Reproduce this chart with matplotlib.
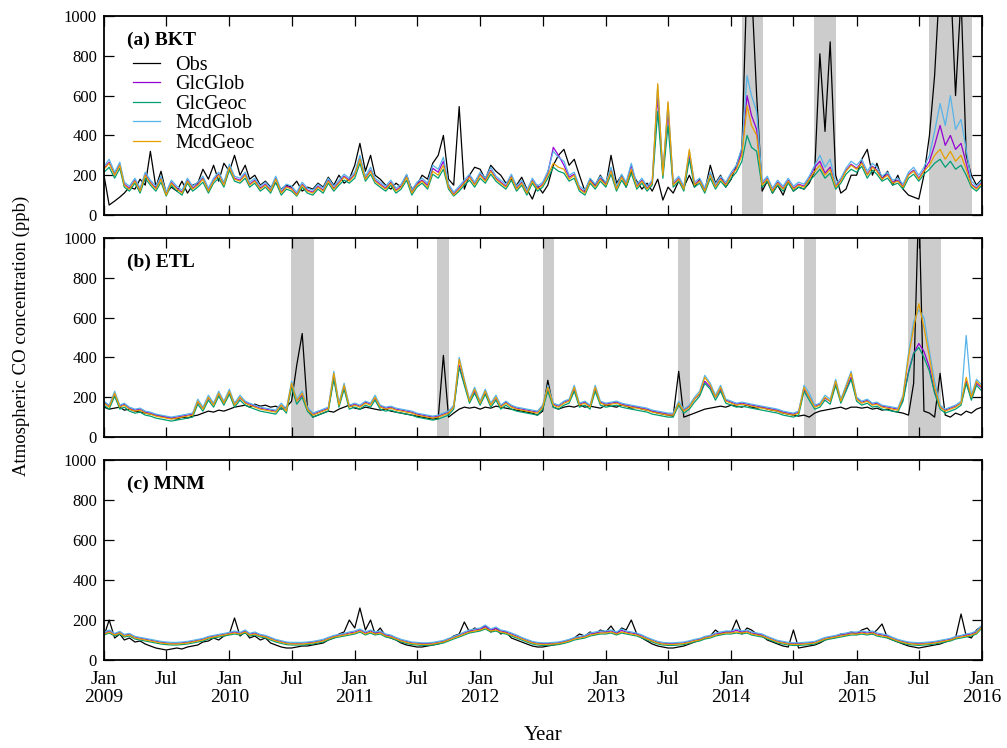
import matplotlib
matplotlib.use("Agg")
import matplotlib.pyplot as plt
import matplotlib.dates as mdates
import pandas as pd

plt.rcParams['font.family'] = ['Liberation Serif', 'DejaVu Serif']
plt.rcParams['font.size'] = 12

# ---------------- data (semi-monthly readings, 1st and 16th of each month) ----------------
years = list(range(2009, 2016))
months = list(range(1, 13))
days = [1, 16]
end_date = "2016-01-01"

series_names = ["Obs", "GlcGlob", "GlcGeoc", "McdGlob", "McdGeoc"]
series_colors = ["#000000", "#9400D3", "#009E73", "#56B4E9", "#E69F00"]
panel_titles = ["(a) BKT", "(b) ETL", "(c) MNM"]

# Panel (a) BKT
obs_a = [200, 50, 70, 90, 110, 140, 130, 180, 150, 320, 140, 220, 110, 140, 120, 170, 110, 150, 160, 230, 180, 250, 170, 260,
         220, 300, 200, 250, 180, 200, 150, 170, 140, 160, 130, 150, 140, 170, 120, 140, 130, 160, 140, 190, 150, 200, 160, 180,
         250, 360, 220, 300, 200, 180, 150, 130, 160, 140, 200, 130, 150, 200, 180, 260, 300, 400, 180, 150, 545, 130, 200, 240,
         230, 180, 250, 220, 200, 160, 180, 150, 190, 130, 80, 150, 110, 150, 250, 300, 330, 250, 280, 200, 120, 180, 150, 200,
         150, 300, 160, 200, 140, 220, 170, 130, 160, 120, 180, 75, 140, 110, 170, 140, 200, 140, 180, 120, 250, 160, 200, 140,
         180, 250, 330, 1200, 1150, 600, 120, 170, 110, 150, 100, 170, 120, 140, 130, 160, 220, 810, 420, 870, 200, 110, 130, 200,
         200, 280, 330, 200, 260, 180, 220, 150, 200, 130, 100, 90, 80, 200, 400, 700, 1200, 1200, 1200, 600, 1100, 300, 200, 150,
         180]
glcglob_a = [235, 265, 205, 255, 155, 135, 175, 125, 205, 165, 135, 185, 105, 165, 135, 115, 175, 135, 155, 185, 125, 175, 205, 155,
             245, 185, 175, 205, 155, 175, 135, 155, 125, 185, 115, 145, 135, 105, 155, 125, 115, 145, 125, 175, 135, 165, 195, 175,
             205, 285, 185, 225, 175, 155, 135, 165, 125, 145, 195, 115, 155, 175, 150, 235, 215, 270, 145, 105, 135, 165, 195, 155,
             205, 175, 225, 185, 165, 145, 195, 135, 165, 115, 175, 135, 155, 210, 340, 300, 250, 190, 205, 135, 115, 175, 145, 185,
             155, 225, 135, 195, 155, 250, 145, 175, 135, 165, 600, 205, 520, 155, 185, 135, 300, 155, 175, 125, 205, 145, 185, 155,
             205, 235, 320, 600, 500, 430, 155, 185, 125, 165, 135, 175, 135, 155, 145, 185, 240, 270, 210, 240, 145, 175, 225, 255,
             235, 265, 205, 245, 225, 185, 205, 165, 175, 145, 205, 225, 185, 225, 270, 350, 450, 350, 400, 330, 360, 260, 155, 135,
             165]
glcgeoc_a = [215, 240, 185, 235, 140, 120, 160, 110, 185, 150, 120, 165, 95, 150, 120, 100, 160, 120, 140, 165, 110, 160, 185, 140,
             225, 170, 160, 185, 140, 160, 120, 140, 110, 165, 100, 130, 120, 95, 140, 110, 100, 130, 110, 160, 120, 150, 175, 160,
             185, 260, 170, 205, 160, 140, 120, 150, 110, 130, 175, 100, 140, 160, 130, 205, 185, 230, 130, 95, 120, 150, 175, 140,
             185, 160, 205, 170, 150, 130, 175, 120, 150, 100, 160, 120, 140, 185, 240, 220, 210, 170, 185, 120, 100, 160, 130, 170,
             140, 205, 120, 175, 140, 210, 130, 160, 120, 150, 520, 185, 450, 140, 170, 120, 280, 140, 160, 110, 185, 130, 170, 140,
             185, 215, 270, 400, 340, 320, 140, 170, 110, 150, 120, 160, 120, 140, 130, 170, 200, 230, 185, 210, 130, 160, 205, 230,
             215, 245, 185, 225, 205, 170, 185, 150, 160, 130, 185, 205, 170, 205, 230, 260, 280, 240, 270, 230, 250, 200, 140, 120,
             150]
mcdglob_a = [245, 280, 215, 265, 165, 145, 185, 135, 215, 175, 145, 195, 115, 175, 145, 125, 185, 145, 165, 195, 135, 185, 215, 165,
             255, 195, 185, 215, 165, 185, 145, 165, 135, 195, 125, 155, 145, 115, 165, 135, 125, 155, 135, 185, 145, 175, 205, 185,
             215, 300, 195, 240, 185, 165, 145, 175, 135, 155, 205, 125, 165, 185, 160, 250, 230, 290, 155, 115, 145, 175, 205, 165,
             215, 185, 240, 195, 175, 155, 205, 145, 175, 125, 185, 145, 165, 220, 320, 290, 270, 200, 215, 145, 125, 185, 155, 195,
             165, 240, 145, 205, 165, 260, 155, 185, 145, 175, 650, 215, 560, 165, 195, 145, 320, 165, 185, 135, 215, 155, 195, 165,
             215, 250, 340, 700, 600, 520, 165, 195, 135, 175, 145, 185, 145, 165, 155, 195, 250, 300, 240, 280, 155, 185, 235, 270,
             250, 280, 220, 260, 240, 195, 215, 175, 185, 155, 215, 240, 200, 240, 300, 420, 560, 450, 600, 430, 480, 330, 170, 145,
             175]
mcdgeoc_a = [230, 260, 200, 250, 150, 130, 170, 120, 200, 160, 130, 180, 100, 160, 130, 110, 170, 130, 150, 180, 120, 170, 200, 150,
             240, 180, 170, 200, 150, 170, 130, 150, 120, 180, 110, 140, 130, 100, 150, 120, 110, 140, 120, 170, 130, 160, 190, 170,
             200, 280, 180, 220, 170, 150, 130, 160, 120, 140, 190, 110, 150, 170, 140, 220, 200, 250, 140, 100, 130, 160, 190, 150,
             200, 170, 220, 180, 160, 140, 190, 130, 160, 110, 170, 130, 150, 200, 260, 240, 230, 180, 200, 130, 110, 170, 140, 180,
             150, 220, 130, 190, 150, 230, 140, 170, 130, 160, 660, 200, 570, 150, 180, 130, 330, 150, 170, 120, 200, 140, 180, 150,
             200, 230, 300, 550, 450, 400, 150, 180, 120, 160, 130, 170, 130, 150, 140, 180, 220, 250, 200, 230, 140, 170, 220, 250,
             230, 260, 200, 240, 220, 180, 200, 160, 170, 140, 200, 220, 180, 220, 250, 300, 330, 280, 320, 270, 300, 230, 150, 130,
             160]

# Panel (b) ETL
obs_b = [150, 140, 145, 150, 135, 140, 130, 125, 120, 115, 110, 105, 100, 95, 90, 100, 95, 105, 110, 120, 130, 125, 135, 130,
         140, 150, 155, 160, 150, 165, 155, 160, 150, 155, 140, 150, 180, 360, 520, 150, 100, 110, 120, 130, 125, 140, 150, 160,
         145, 140, 150, 145, 140, 135, 140, 130, 125, 120, 115, 110, 105, 100, 95, 90, 95, 410, 100, 120, 140, 150, 145, 150,
         140, 150, 145, 155, 150, 145, 140, 135, 130, 125, 120, 110, 130, 285, 150, 140, 150, 155, 150, 160, 150, 155, 150, 145,
         160, 155, 150, 160, 155, 145, 150, 140, 135, 130, 120, 115, 110, 105, 330, 100, 110, 120, 130, 140, 145, 150, 155, 150,
         160, 155, 150, 160, 150, 145, 150, 140, 135, 130, 120, 115, 110, 105, 110, 100, 120, 130, 135, 140, 145, 150, 140, 150,
         150, 145, 150, 140, 145, 135, 140, 130, 125, 120, 110, 270, 1200, 130, 120, 100, 320, 110, 100, 120, 110, 130, 120, 140,
         150]
glcglob_b = [175, 155, 215, 155, 165, 145, 135, 140, 125, 120, 110, 105, 100, 95, 100, 105, 110, 115, 175, 145, 195, 165, 215, 175,
             225, 165, 195, 175, 165, 155, 145, 140, 135, 130, 160, 135, 260, 180, 210, 145, 115, 125, 135, 145, 300, 165, 250, 155,
             165, 155, 175, 165, 195, 155, 145, 150, 140, 135, 130, 125, 115, 110, 105, 100, 105, 115, 125, 150, 360, 270, 185, 230,
             175, 225, 165, 195, 155, 175, 155, 145, 140, 135, 130, 125, 155, 240, 165, 155, 175, 185, 240, 165, 175, 155, 240, 175,
             165, 170, 175, 165, 160, 155, 150, 145, 140, 130, 125, 120, 115, 115, 170, 135, 155, 190, 215, 280, 250, 200, 240, 185,
             175, 165, 170, 165, 160, 155, 150, 145, 140, 135, 125, 120, 115, 125, 240, 200, 155, 165, 195, 180, 270, 185, 240, 300,
             195, 175, 185, 165, 170, 155, 150, 145, 140, 190, 330, 420, 470, 430, 350, 230, 150, 135, 145, 155, 170, 280, 200, 270,
             245]
glcgeoc_b = [160, 140, 205, 140, 150, 130, 120, 125, 110, 105, 95, 90, 85, 80, 85, 90, 95, 100, 165, 130, 185, 150, 205, 160,
             215, 150, 185, 160, 150, 140, 130, 125, 120, 115, 150, 120, 250, 165, 200, 130, 100, 110, 120, 130, 290, 150, 240, 140,
             150, 140, 160, 150, 185, 140, 130, 135, 125, 120, 115, 110, 100, 95, 90, 85, 90, 100, 110, 140, 350, 260, 170, 220,
             160, 215, 150, 185, 140, 160, 140, 130, 125, 120, 115, 110, 140, 230, 150, 140, 160, 170, 230, 150, 160, 140, 230, 160,
             150, 155, 160, 150, 145, 140, 135, 130, 125, 115, 110, 105, 100, 100, 160, 120, 140, 175, 205, 270, 240, 185, 230, 170,
             160, 150, 155, 150, 145, 140, 135, 130, 125, 120, 110, 105, 100, 110, 230, 185, 140, 150, 185, 165, 260, 170, 230, 290,
             180, 160, 170, 150, 155, 140, 135, 130, 125, 180, 320, 420, 450, 400, 330, 220, 140, 120, 130, 140, 160, 270, 185, 260,
             230]
mcdglob_b = [180, 160, 230, 160, 170, 150, 140, 145, 130, 125, 115, 110, 105, 100, 105, 110, 115, 120, 190, 150, 210, 170, 230, 180,
             240, 170, 210, 180, 170, 160, 150, 145, 140, 135, 170, 140, 280, 190, 230, 150, 120, 130, 140, 150, 330, 170, 270, 160,
             170, 160, 180, 170, 210, 160, 150, 155, 145, 140, 135, 130, 120, 115, 110, 105, 110, 120, 130, 160, 400, 290, 190, 250,
             180, 240, 170, 210, 160, 180, 160, 150, 145, 140, 135, 130, 160, 260, 170, 160, 180, 190, 260, 170, 180, 160, 260, 180,
             170, 175, 180, 170, 165, 160, 155, 150, 145, 135, 130, 125, 120, 120, 180, 140, 160, 200, 230, 310, 270, 210, 260, 190,
             180, 170, 175, 170, 165, 160, 155, 150, 145, 140, 130, 125, 120, 130, 260, 220, 160, 170, 210, 190, 290, 190, 260, 330,
             200, 180, 190, 170, 175, 160, 155, 150, 145, 210, 420, 580, 640, 600, 430, 280, 160, 140, 150, 160, 180, 510, 210, 290,
             260]
mcdgeoc_b = [170, 150, 220, 150, 160, 140, 130, 135, 120, 115, 105, 100, 95, 90, 95, 100, 105, 110, 180, 140, 200, 160, 220, 170,
             230, 160, 200, 170, 160, 150, 140, 135, 130, 125, 160, 130, 270, 180, 220, 140, 110, 120, 130, 140, 320, 160, 260, 150,
             160, 150, 170, 160, 200, 150, 140, 145, 135, 130, 125, 120, 110, 105, 100, 95, 100, 110, 120, 150, 390, 280, 180, 240,
             170, 230, 160, 200, 150, 170, 150, 140, 135, 130, 125, 120, 150, 250, 160, 150, 170, 180, 250, 160, 170, 150, 250, 170,
             160, 165, 170, 160, 155, 150, 145, 140, 135, 125, 120, 115, 110, 110, 170, 130, 150, 190, 220, 300, 260, 200, 250, 180,
             170, 160, 165, 160, 155, 150, 145, 140, 135, 130, 120, 115, 110, 120, 250, 200, 150, 160, 200, 180, 280, 180, 250, 320,
             190, 170, 180, 160, 165, 150, 145, 140, 135, 200, 400, 550, 670, 550, 400, 250, 150, 130, 140, 150, 170, 300, 200, 280,
             250]

# Panel (c) MNM
obs_c = [120, 200, 110, 130, 100, 110, 90, 95, 80, 70, 60, 55, 50, 55, 60, 55, 65, 70, 75, 90, 95, 110, 100, 120,
         130, 210, 120, 140, 110, 120, 100, 110, 85, 75, 65, 60, 60, 65, 70, 70, 75, 80, 85, 100, 110, 130, 140, 200,
         160, 260, 150, 200, 130, 160, 120, 110, 100, 85, 75, 70, 65, 65, 70, 75, 80, 90, 100, 120, 130, 190, 140, 160,
         150, 170, 140, 160, 130, 140, 110, 100, 90, 80, 70, 65, 65, 70, 75, 80, 90, 100, 110, 130, 120, 140, 130, 150,
         140, 170, 130, 160, 150, 200, 130, 110, 95, 80, 70, 65, 60, 60, 65, 70, 80, 90, 100, 110, 120, 150, 130, 140,
         140, 200, 130, 160, 150, 130, 120, 100, 90, 80, 70, 65, 150, 60, 65, 70, 75, 85, 100, 110, 115, 130, 125, 140,
         130, 150, 160, 130, 150, 180, 110, 100, 90, 80, 70, 65, 60, 65, 70, 75, 80, 90, 100, 110, 230, 120, 110, 150,
         170]
glcglob_c = [134, 145, 129, 139, 124, 129, 114, 109, 104, 99, 94, 89, 86, 84, 84, 86, 89, 94, 99, 104, 114, 119, 124, 129,
             134, 140, 134, 145, 129, 135, 124, 119, 109, 99, 92, 86, 84, 84, 84, 86, 89, 94, 99, 109, 119, 124, 129, 135,
             140, 150, 135, 145, 135, 140, 125, 120, 109, 99, 92, 86, 84, 82, 82, 84, 89, 94, 104, 114, 124, 135, 145, 150,
             155, 168, 150, 158, 145, 140, 130, 120, 109, 99, 89, 84, 82, 82, 84, 86, 92, 99, 109, 114, 119, 130, 135, 140,
             140, 145, 135, 148, 140, 135, 130, 120, 109, 99, 89, 84, 82, 82, 84, 86, 92, 99, 104, 114, 119, 130, 135, 140,
             140, 148, 140, 145, 135, 130, 125, 114, 104, 94, 89, 84, 82, 82, 84, 86, 89, 99, 109, 114, 119, 125, 130, 135,
             135, 140, 135, 140, 130, 125, 120, 109, 99, 92, 86, 84, 82, 84, 86, 89, 94, 99, 104, 114, 119, 125, 130, 140,
             168]
glcgeoc_c = [125, 135, 120, 130, 115, 120, 105, 100, 95, 90, 85, 80, 77, 75, 75, 77, 80, 85, 90, 95, 105, 110, 115, 120,
             125, 130, 125, 135, 120, 125, 115, 110, 100, 90, 83, 77, 75, 75, 75, 77, 80, 85, 90, 100, 110, 115, 120, 125,
             130, 140, 125, 135, 125, 130, 115, 110, 100, 90, 83, 77, 75, 73, 73, 75, 80, 85, 95, 105, 115, 125, 135, 140,
             145, 155, 140, 145, 135, 130, 120, 110, 100, 90, 80, 75, 73, 73, 75, 77, 83, 90, 100, 105, 110, 120, 125, 130,
             130, 135, 125, 135, 130, 125, 120, 110, 100, 90, 80, 75, 73, 73, 75, 77, 83, 90, 95, 105, 110, 120, 125, 130,
             130, 135, 130, 135, 125, 120, 115, 105, 95, 85, 80, 75, 73, 73, 75, 77, 80, 90, 100, 105, 110, 115, 120, 125,
             125, 130, 125, 130, 120, 115, 110, 100, 90, 83, 77, 75, 73, 75, 77, 80, 85, 90, 95, 105, 110, 115, 120, 130,
             160]
mcdglob_c = [138, 150, 133, 143, 128, 133, 118, 113, 108, 103, 98, 93, 90, 88, 88, 90, 93, 98, 103, 108, 118, 123, 128, 133,
             138, 145, 138, 150, 133, 140, 128, 123, 113, 103, 96, 90, 88, 88, 88, 90, 93, 98, 103, 113, 123, 128, 133, 140,
             145, 155, 140, 150, 140, 145, 130, 125, 113, 103, 96, 90, 88, 86, 86, 88, 93, 98, 108, 118, 128, 140, 150, 155,
             160, 175, 155, 165, 150, 145, 135, 125, 113, 103, 93, 88, 86, 86, 88, 90, 96, 103, 113, 118, 123, 135, 140, 145,
             145, 150, 140, 155, 145, 140, 135, 125, 113, 103, 93, 88, 86, 86, 88, 90, 96, 103, 108, 118, 123, 135, 140, 145,
             145, 155, 145, 150, 140, 135, 130, 118, 108, 98, 93, 88, 86, 86, 88, 90, 93, 103, 113, 118, 123, 130, 135, 140,
             140, 145, 140, 145, 135, 130, 125, 113, 103, 96, 90, 88, 86, 88, 90, 93, 98, 103, 108, 118, 123, 130, 135, 145,
             175]
mcdgeoc_c = [130, 140, 125, 135, 120, 125, 110, 105, 100, 95, 90, 85, 82, 80, 80, 82, 85, 90, 95, 100, 110, 115, 120, 125,
             130, 135, 130, 140, 125, 130, 120, 115, 105, 95, 88, 82, 80, 80, 80, 82, 85, 90, 95, 105, 115, 120, 125, 130,
             135, 145, 130, 140, 130, 135, 120, 115, 105, 95, 88, 82, 80, 78, 78, 80, 85, 90, 100, 110, 120, 130, 140, 145,
             150, 160, 145, 150, 140, 135, 125, 115, 105, 95, 85, 80, 78, 78, 80, 82, 88, 95, 105, 110, 115, 125, 130, 135,
             135, 140, 130, 140, 135, 130, 125, 115, 105, 95, 85, 80, 78, 78, 80, 82, 88, 95, 100, 110, 115, 125, 130, 135,
             135, 140, 135, 140, 130, 125, 120, 110, 100, 90, 85, 80, 78, 78, 80, 82, 85, 95, 105, 110, 115, 120, 125, 130,
             130, 135, 130, 135, 125, 120, 115, 105, 95, 88, 82, 80, 78, 80, 82, 85, 90, 95, 100, 110, 115, 120, 125, 135,
             165]

# shaded periods
shade_a = [("2014-02-01", "2014-04-03"), ("2014-08-31", "2014-11-03"), ("2015-07-30", "2015-12-03")]
shade_b = [("2010-06-29", "2010-09-03"), ("2011-08-29", "2011-10-03"), ("2012-07-01", "2012-08-03"),
           ("2013-07-31", "2013-09-03"), ("2014-07-31", "2014-09-05"), ("2015-05-31", "2015-09-03")]
shade_c = []

y_ticks = [0, 200, 400, 600, 800, 1000]
x_start, x_end = "2009-01-01", "2016-01-01"

# ---------------- build ----------------
dates = [pd.Timestamp(y, m, d) for y in years for m in months for d in days] + [pd.Timestamp(end_date)]

panels = [
    ([obs_a, glcglob_a, glcgeoc_a, mcdglob_a, mcdgeoc_a], shade_a),
    ([obs_b, glcglob_b, glcgeoc_b, mcdglob_b, mcdgeoc_b], shade_b),
    ([obs_c, glcglob_c, glcgeoc_c, mcdglob_c, mcdgeoc_c], shade_c),
]

fig = plt.figure(figsize=(10.07, 7.48), dpi=100)
left, right = 104 / 1007, 982 / 1007
tops = [16, 238, 460]
bots = [215, 437, 660]

for i, ((series, shades), title) in enumerate(zip(panels, panel_titles)):
    b = 1 - bots[i] / 748
    h = (bots[i] - tops[i]) / 748
    ax = fig.add_axes([left, b, right - left, h])
    for s0, s1 in shades:
        ax.axvspan(pd.Timestamp(s0), pd.Timestamp(s1), color="#cccccc", lw=0, zorder=0)
    for vals, name, col in zip(series, series_names, series_colors):
        ax.plot(dates, vals, color=col, lw=0.9, label=name, zorder=2)
    ax.set_xlim(pd.Timestamp(x_start), pd.Timestamp(x_end))
    ax.set_ylim(0, 1000)
    ax.set_yticks(y_ticks)
    ax.xaxis.set_major_locator(mdates.MonthLocator(bymonth=[1, 7]))
    ax.tick_params(direction="in", top=True, right=True, length=7, width=0.9)
    ax.tick_params(axis="y", labelsize=12, pad=5)
    for sp in ax.spines.values():
        sp.set_linewidth(1.3)
    ax.text(0.026, 0.88, title, transform=ax.transAxes, fontsize=14, fontweight="bold", va="center", ha="left")
    if i == 0:
        ax.legend(loc="upper left", bbox_to_anchor=(0.033, 0.80), frameon=False, fontsize=14.5,
                  handlelength=1.35, handletextpad=0.75, labelspacing=0.02, borderpad=0, borderaxespad=0)
    if i == 2:
        def fmt(x, pos=None):
            d = mdates.num2date(x)
            return f"Jan\n{d.year}" if d.month == 1 else "Jul"
        ax.xaxis.set_major_formatter(plt.FuncFormatter(fmt))
        ax.tick_params(axis="x", pad=8, labelsize=14)
        for lab in ax.get_xticklabels():
            lab.set_linespacing(1.1)
    else:
        ax.set_xticklabels([])

fig.text(0.021, 1 - 336 / 748, "Atmospheric CO concentration (ppb)", rotation=90, ha="center", va="center", fontsize=13.5)
fig.text(543 / 1007, 1 - 736 / 748, "Year", ha="center", va="center", fontsize=15)

fig.savefig("out.png", dpi=100)
